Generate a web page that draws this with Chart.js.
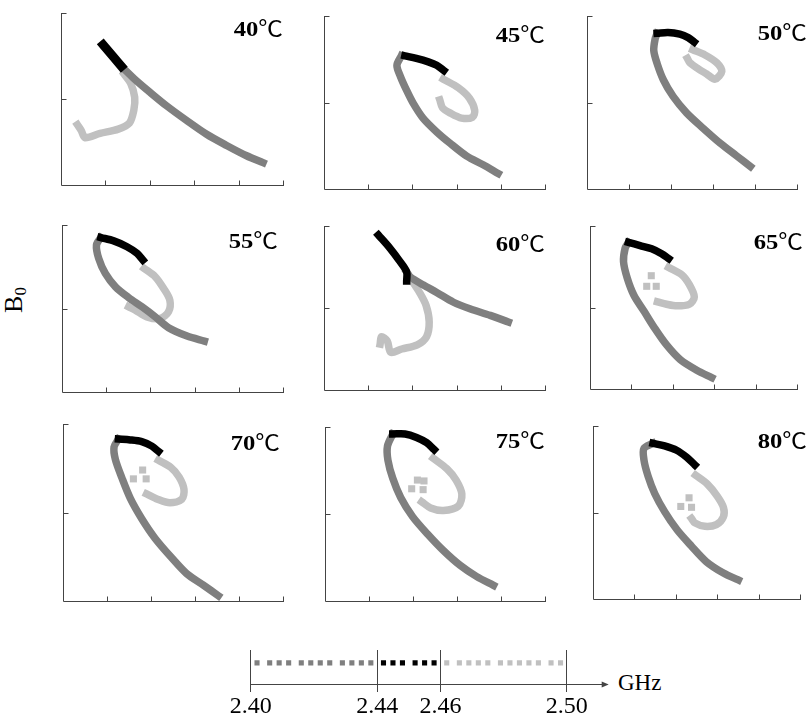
<!DOCTYPE html>
<html>
<head>
<meta charset="utf-8">
<script src="https://cdn.jsdelivr.net/npm/chart.js@4.4.1/dist/chart.umd.min.js"></script>
<style>
html, body { margin: 0; padding: 0; background: #fff; overflow: hidden; }
body { width: 811px; height: 713px; position: relative; }
canvas { position: absolute; }
.temp { position: absolute; font: bold 22px/22px "Liberation Serif", "Times New Roman", serif; color: #000; white-space: nowrap;
  transform: scaleX(1.12); transform-origin: right center; }
.temp span { font-family: "Noto Sans CJK SC", sans-serif; font-weight: normal; }
#ylabel { position: absolute; left: 17px; top: 300px; transform: translate(-50%, -50%) rotate(-90deg);
  font: 26px/26px "Liberation Serif", serif; white-space: nowrap; }
#ylabel sub { font-size: 17px; vertical-align: -4px; }
#unit { position: absolute; left: 618px; top: 671px; font: 23px/23px "Liberation Serif", serif; }
</style>
</head>
<body>
<div id="ylabel">B<sub>0</sub></div>
<div id="unit">GHz</div>
<canvas id="legendAxis" width="430" height="88" style="left:200px;top:630px"></canvas>
<script>
// panel temperatures
const temperatures = ['40', '45', '50', '55', '60', '65', '70', '75', '80'];

// 2.40 - 2.44 GHz part of each curve (dark grey), [x, y] in axis units
const lowBand = [
  [[4.55,0.26],[4.18,0.34],[3.73,0.46],[3.28,0.59],[2.83,0.75],[2.38,0.92],[2.00,1.08],[1.66,1.23],[1.36,1.38]],
  [[3.94,0.18],[3.60,0.28],[3.23,0.38],[2.85,0.53],[2.55,0.66],[2.24,0.82],[2.02,0.99],[1.87,1.14],[1.73,1.30],[1.65,1.43],[1.75,1.54]],
  [[3.89,0.26],[3.57,0.38],[3.17,0.53],[2.77,0.70],[2.37,0.88],[2.05,1.07],[1.82,1.26],[1.67,1.45],[1.59,1.60],[1.62,1.73],[1.67,1.80]],
  [[3.22,0.61],[2.83,0.67],[2.41,0.77],[2.11,0.90],[1.81,1.02],[1.51,1.13],[1.21,1.26],[0.98,1.42],[0.83,1.60],[0.78,1.76],[0.88,1.85]],
  [[4.17,0.83],[3.76,0.91],[3.30,0.99],[2.93,1.07],[2.55,1.19],[2.25,1.28],[1.95,1.38],[1.87,1.44]],
  [[2.94,0.14],[2.58,0.23],[2.18,0.36],[1.85,0.54],[1.57,0.74],[1.31,0.95],[1.06,1.15],[0.90,1.36],[0.81,1.56],[0.85,1.73],[0.93,1.80]],
  [[3.53,0.06],[3.19,0.18],[2.81,0.31],[2.45,0.50],[2.09,0.71],[1.79,0.93],[1.53,1.16],[1.34,1.39],[1.19,1.60],[1.16,1.74],[1.26,1.83]],
  [[3.83,0.18],[3.45,0.28],[3.07,0.41],[2.69,0.58],[2.33,0.77],[1.99,0.97],[1.72,1.19],[1.54,1.41],[1.43,1.62],[1.42,1.78],[1.54,1.92]],
  [[3.51,0.22],[3.15,0.30],[2.74,0.43],[2.38,0.61],[2.03,0.80],[1.73,1.01],[1.49,1.22],[1.33,1.42],[1.23,1.61],[1.23,1.74],[1.45,1.80]]
];

// 2.44 - 2.46 GHz part (black)
const midBand = [
  [[1.36,1.38],[1.18,1.49],[0.95,1.63]],
  [[1.83,1.54],[2.09,1.51],[2.36,1.47],[2.55,1.43],[2.71,1.37]],
  [[1.67,1.80],[1.93,1.81],[2.21,1.79],[2.41,1.75],[2.55,1.70]],
  [[0.88,1.85],[1.17,1.81],[1.47,1.74],[1.70,1.66],[1.83,1.58]],
  [[1.87,1.33],[1.87,1.44],[1.70,1.58],[1.49,1.73],[1.23,1.89]],
  [[0.93,1.80],[1.21,1.76],[1.49,1.72],[1.73,1.66],[1.90,1.60]],
  [[1.26,1.83],[1.53,1.82],[1.79,1.80],[2.02,1.75],[2.17,1.69]],
  [[1.54,1.92],[1.82,1.92],[2.08,1.88],[2.31,1.82],[2.48,1.74]],
  [[1.45,1.80],[1.73,1.77],[2.02,1.72],[2.26,1.64],[2.46,1.55]]
];

// 2.46 - 2.50 GHz part (light grey)
const highBand = [
  [[1.42,1.29],[1.57,1.18],[1.66,1.02],[1.64,0.87],[1.54,0.72],[1.29,0.65],[0.88,0.60],[0.54,0.55],[0.46,0.63],[0.37,0.70]],
  [[2.70,1.27],[3.04,1.17],[3.29,1.05],[3.41,0.91],[3.36,0.83],[3.11,0.82],[2.85,0.88],[2.68,0.94],[2.62,1.03]],
  [[2.52,1.61],[2.81,1.55],[3.09,1.46],[3.21,1.36],[3.05,1.27],[2.85,1.33],[2.65,1.39],[2.45,1.46],[2.39,1.51]],
  [[1.86,1.48],[2.11,1.38],[2.30,1.24],[2.44,1.10],[2.41,0.96],[2.22,0.88],[1.92,0.90],[1.66,0.98],[1.51,1.02]],
  [[1.98,1.34],[2.16,1.19],[2.31,1.03],[2.38,0.83],[2.32,0.65],[2.11,0.55],[1.76,0.50],[1.51,0.46],[1.43,0.60],[1.30,0.65],[1.27,0.56]],
  [[1.90,1.49],[2.22,1.40],[2.40,1.28],[2.52,1.13],[2.40,1.04],[2.10,1.02],[1.85,1.04],[1.63,1.07]],
  [[2.17,1.59],[2.45,1.51],[2.64,1.40],[2.75,1.26],[2.70,1.15],[2.43,1.11],[2.15,1.15],[1.90,1.21]],
  [[2.46,1.64],[2.77,1.52],[2.98,1.39],[3.11,1.23],[3.03,1.09],[2.69,1.04],[2.40,1.07],[2.20,1.14]],
  [[2.48,1.43],[2.76,1.33],[3.00,1.19],[3.15,1.06],[3.15,0.95],[2.98,0.86],[2.70,0.84],[2.46,0.88],[2.38,0.93]]
];

// loose light grey squares inside the loop
const strayPoints = [
  [], [], [], [], [],
  [[1.48,1.39],[1.37,1.26],[1.60,1.26]],
  [[1.81,1.48],[1.60,1.38],[1.89,1.38]],
  [[2.10,1.39],[2.25,1.38],[1.97,1.29],[2.23,1.28]],
  [[2.32,1.17],[2.12,1.07],[2.38,1.06]]
];

const panelXTicks = [1, 2, 3, 4, 5];
const panelYTicks = [1, 2];

// frequency key at the bottom
const freqTicks = [2.40, 2.44, 2.46, 2.50];
const lowMarkers = [2.402, 2.406, 2.409, 2.412, 2.416, 2.419, 2.422, 2.425, 2.429, 2.432, 2.435, 2.438];
const midMarkers = [2.442, 2.445, 2.448, 2.452, 2.455, 2.458];
const highMarkers = [2.462, 2.466, 2.469, 2.472, 2.475, 2.479, 2.482, 2.485, 2.488, 2.491, 2.495, 2.498];

const DARK = '#7f7f7f', BLACK = '#000000', LIGHT = '#c0c0c0', AXIS = '#444444';

// where each panel's plot area sits on the page
const panelBoxes = [
  { left: 61,  top: 13,  width: 222, height: 172, labelRight: 283, labelTop: 15 },
  { left: 324, top: 16,  width: 221, height: 173, labelRight: 545, labelTop: 21 },
  { left: 587, top: 16,  width: 210, height: 173, labelRight: 807, labelTop: 19 },
  { left: 62,  top: 225, width: 221, height: 167, labelRight: 278, labelTop: 227 },
  { left: 324, top: 226, width: 221, height: 164, labelRight: 545, labelTop: 230 },
  { left: 590, top: 226, width: 207, height: 163, labelRight: 803, labelTop: 228 },
  { left: 63,  top: 424, width: 220, height: 177, labelRight: 280, labelTop: 429 },
  { left: 325, top: 427, width: 220, height: 174, labelRight: 545, labelTop: 427 },
  { left: 593, top: 426, width: 207, height: 173, labelRight: 807, labelTop: 427 }
];
const PAD = 10;

// left and bottom axis lines with short inward ticks
const panelAxes = {
  id: 'panelAxes',
  beforeDatasetsDraw(chart) {
    const { ctx, scales: { x, y } } = chart;
    const x0 = Math.round(x.getPixelForValue(0)) + 0.5;
    const y0 = Math.round(y.getPixelForValue(0)) + 0.5;
    ctx.save();
    ctx.strokeStyle = AXIS;
    ctx.lineWidth = 1;
    ctx.beginPath();
    ctx.moveTo(x0, Math.round(y.getPixelForValue(2)));
    ctx.lineTo(x0, y0);
    ctx.lineTo(Math.round(x.getPixelForValue(5)) + 1, y0);
    panelXTicks.forEach(v => {
      const px = Math.round(x.getPixelForValue(v)) + 0.5;
      ctx.moveTo(px, y0);
      ctx.lineTo(px, y0 - 5);
    });
    panelYTicks.forEach(v => {
      const py = Math.round(y.getPixelForValue(v)) + 0.5;
      ctx.moveTo(x0, py);
      ctx.lineTo(x0 + 5, py);
    });
    ctx.stroke();
    ctx.restore();
  }
};

const toPoints = arr => arr.map(p => ({ x: p[0], y: p[1] }));

function curve(points, color, order, width) {
  return {
    data: toPoints(points),
    showLine: true,
    borderColor: color,
    borderWidth: width,
    borderCapStyle: 'square',
    borderJoinStyle: 'round',
    tension: 0.3,
    pointRadius: 0,
    order: order,
    clip: PAD
  };
}

temperatures.forEach((t, i) => {
  const box = panelBoxes[i];
  const canvas = document.createElement('canvas');
  canvas.width = box.width + 2 * PAD;
  canvas.height = box.height + 2 * PAD;
  canvas.style.left = (box.left - PAD) + 'px';
  canvas.style.top = (box.top - PAD) + 'px';
  document.body.appendChild(canvas);

  const label = document.createElement('div');
  label.className = 'temp';
  label.innerHTML = t + '<span>℃</span>';
  label.style.right = (811 - box.labelRight) + 'px';
  label.style.top = box.labelTop + 'px';
  document.body.appendChild(label);

  new Chart(canvas, {
    type: 'scatter',
    data: {
      datasets: [
        curve(midBand[i], BLACK, 0, i === 0 ? 9 : 7.5),
        curve(lowBand[i], DARK, 1, 7.5),
        curve(highBand[i], LIGHT, 2, 7.5),
        {
          data: toPoints(strayPoints[i]),
          pointStyle: 'rect',
          pointRadius: 5,
          backgroundColor: LIGHT,
          borderWidth: 0,
          order: 3,
          clip: PAD
        }
      ]
    },
    options: {
      responsive: false,
      animation: false,
      devicePixelRatio: 1,
      layout: { padding: PAD },
      plugins: { legend: { display: false }, tooltip: { enabled: false } },
      scales: {
        x: { type: 'linear', min: 0, max: 5, display: false },
        y: { type: 'linear', min: 0, max: 2, display: false }
      }
    },
    plugins: [panelAxes]
  });
});

// frequency key
const markerRow = 0.62;
const arrowHead = {
  id: 'arrowHead',
  afterDraw(chart) {
    const { ctx, chartArea } = chart;
    const yb = Math.round(chartArea.bottom) + 0.5;
    const xr = chartArea.right;
    ctx.save();
    ctx.fillStyle = AXIS;
    ctx.beginPath();
    ctx.moveTo(xr + 2, yb);
    ctx.lineTo(xr - 5, yb - 3);
    ctx.lineTo(xr - 5, yb + 3);
    ctx.closePath();
    ctx.fill();
    ctx.restore();
  }
};

function markers(values, color) {
  return {
    data: values.map(v => ({ x: v, y: markerRow })),
    pointStyle: 'rect',
    pointRadius: 3.6,
    backgroundColor: color,
    borderWidth: 0
  };
}

new Chart(document.getElementById('legendAxis'), {
  type: 'scatter',
  data: {
    datasets: [markers(lowMarkers, DARK), markers(midMarkers, BLACK), markers(highMarkers, LIGHT)]
  },
  options: {
    responsive: false,
    animation: false,
    devicePixelRatio: 1,
    layout: { padding: { left: 50.7, right: 23.3, top: 20, bottom: 0 } },
    plugins: { legend: { display: false }, tooltip: { enabled: false } },
    scales: {
      x: {
        type: 'linear',
        min: 2.40,
        max: 2.5126,
        afterBuildTicks: scale => { scale.ticks = freqTicks.map(v => ({ value: v })); },
        ticks: {
          font: { family: '"Liberation Serif", serif', size: 24, lineHeight: 1 },
          color: '#000',
          padding: 3,
          maxRotation: 0,
          autoSkip: false,
          callback: v => Number(v).toFixed(2)
        },
        grid: { color: AXIS, lineWidth: 1, tickLength: 8, drawOnChartArea: true },
        border: { color: AXIS, width: 1 }
      },
      y: { type: 'linear', min: 0, max: 1, display: false }
    }
  },
  plugins: [arrowHead]
});
</script>
</body>
</html>
